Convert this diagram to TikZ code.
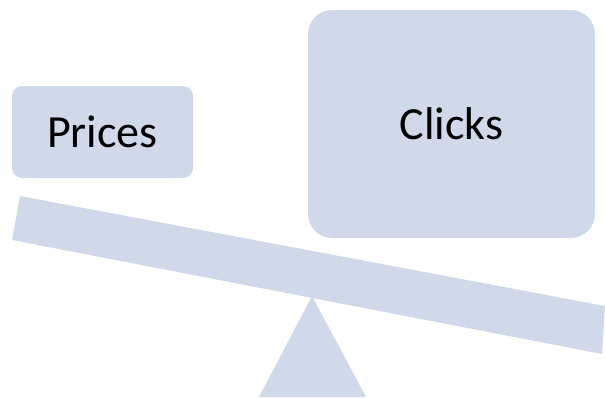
\documentclass[tikz,border=0pt]{standalone}
\usepackage{fontspec}
\setmainfont{Carlito}
\definecolor{seesawblue}{RGB}{208,217,233}
\tikzset{
  weightbox/.style={fill=seesawblue, draw=none, inner sep=0pt, font=\fontsize{46}{52}\selectfont},
}
\begin{document}
\begin{tikzpicture}[x=1pt,y=1pt,yscale=-1,xscale=1]
\useasboundingbox (0,0) rectangle (605,397);

%Shape: Bar
\fill [seesawblue] (20,196) -- (605,306) -- (602,354) -- (12,240) -- cycle ;
%Shape: Triangle
\fill [seesawblue] (312,296) -- (366,397) -- (259,397) -- cycle ;

% Text Node
\node [weightbox, rounded corners=10pt, minimum width=181pt, minimum height=92pt] (prices) at (102.5,132) {Prices};
% Text Node
\node [weightbox, rounded corners=24pt, minimum width=287pt, minimum height=228pt] (clicks) at (451.5,124) {Clicks};

\end{tikzpicture}
\end{document}
